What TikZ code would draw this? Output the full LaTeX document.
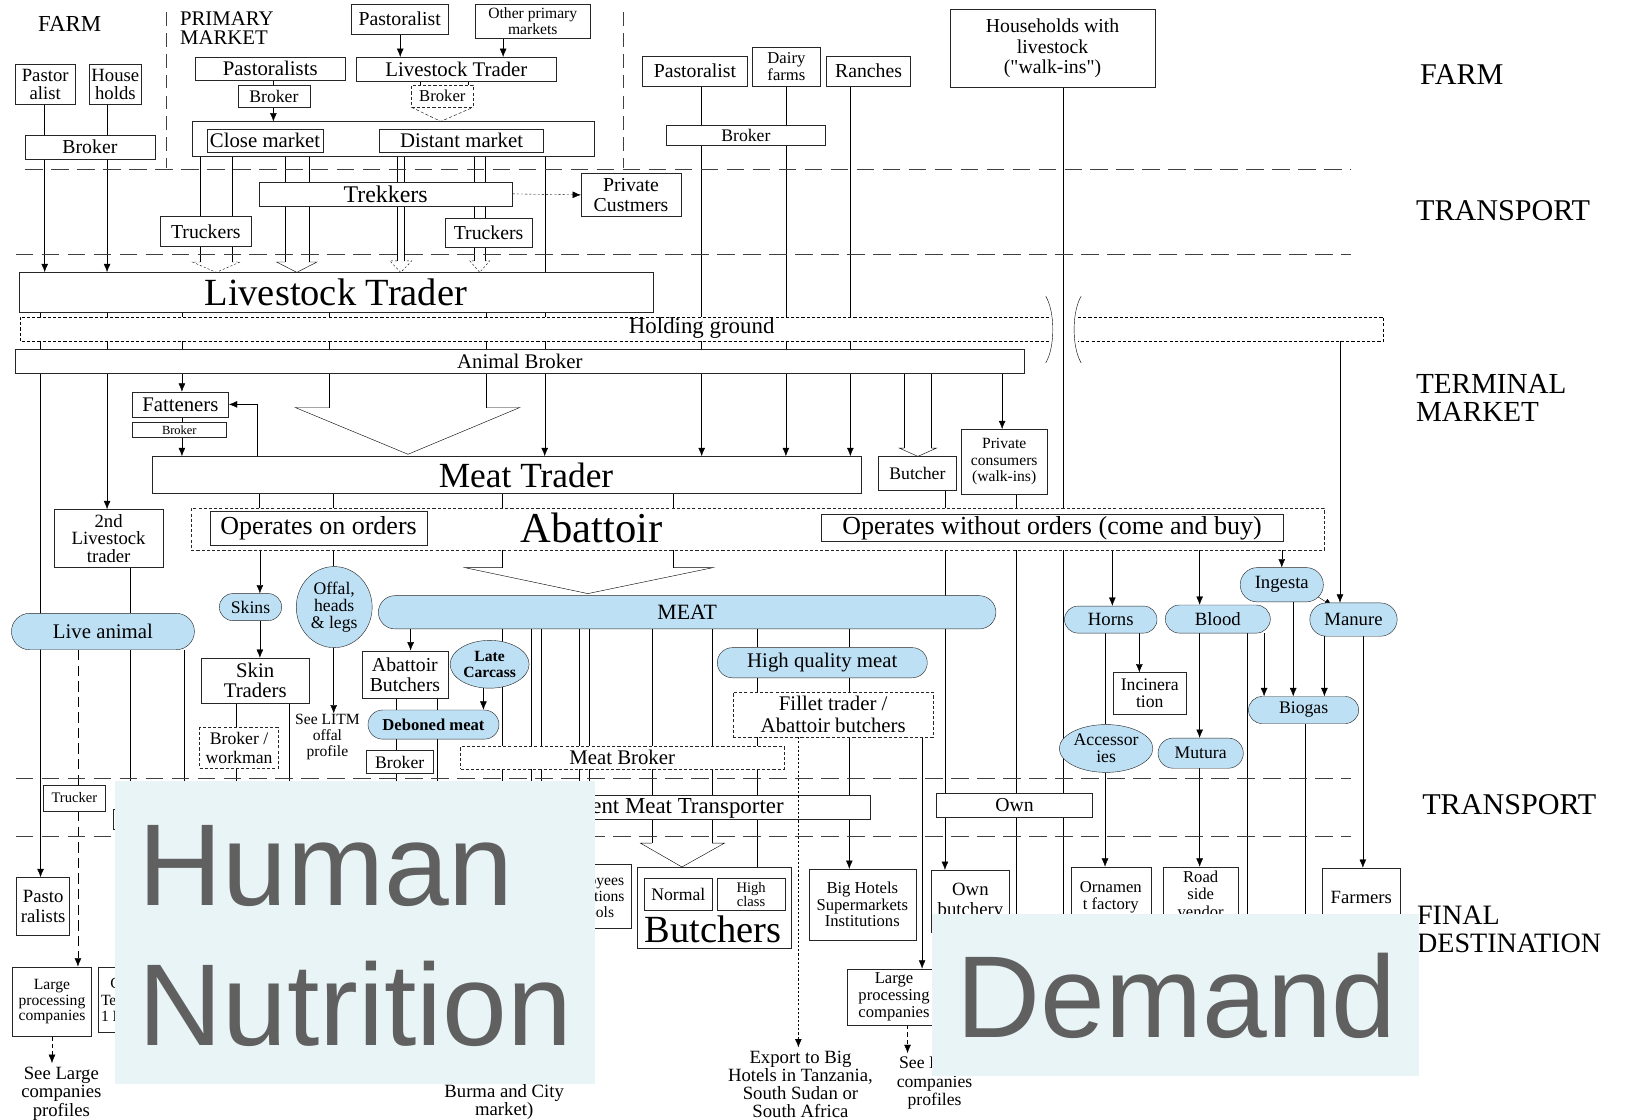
\documentclass[tikz,border=0pt]{standalone}
\usepackage{fontspec}
\setmainfont{Liberation Serif}
\newfontfamily\ovfont{Liberation Sans}
\usetikzlibrary{arrows.meta,shapes.geometric,shapes.misc}
\definecolor{blu}{RGB}{190,224,245}
\definecolor{ovbg}{RGB}{232,244,246}
\definecolor{ovtx}{RGB}{96,96,96}
\pgfdeclarelayer{back}\pgfdeclarelayer{lines}
\pgfsetlayers{back,lines,main}
\newcommand\fz[2]{\fontsize{#1}{#2}\selectfont}
\newcommand\Bx[7][]{\node[box,minimum width={#5-#3},minimum height={#6-#4},#1] (#2) at ({(#3+#5)/2},{(#4+#6)/2}) {#7};}
\newcommand\Pl[7][]{\node[pill,minimum width={#5-#3},minimum height={#6-#4},#1] (#2) at ({(#3+#5)/2},{(#4+#6)/2}) {#7};}
\newcommand\El[7][]{\node[ell,minimum width={#5-#3},minimum height={#6-#4}] (#2) at ({(#3+#5)/2},{(#4+#6)/2}) {};\node[align=center,inner sep=0pt,#1] (#2-t) at (#2.center) {#7};}
\newcommand\vl[4][]{\draw[#1] (#2,0 |- #3) -- (#2,0 |- #4);}
\newcommand\hollow[8][]{%
  \fill[white] (#2,#4) -- (#2,#5) -- (#6,#5) -- ({(#2+#3)/2},#8) -- (#7,#5) -- (#3,#5) -- (#3,#4) -- cycle;
  \draw (#2,#4) -- (#2,#5) (#3,#4) -- (#3,#5);
  \draw[#1] (#2,#5) -- (#6,#5) -- ({(#2+#3)/2},#8) -- (#7,#5) -- (#3,#5);}
\newcommand\qq{\XeTeXglyph\XeTeXcharglyph"22\relax}
\begin{document}
\begin{tikzpicture}[x=1pt,y=-1pt,line width=0.8pt,
  box/.style={draw=black!85,fill=white,inner sep=1pt,align=center},
  dbox/.style={box,dash pattern=on 3pt off 2pt},
  pill/.style={rounded rectangle,draw=black!85,fill=blu,inner sep=1pt,align=center},
  ell/.style={ellipse,draw=black!85,fill=blu,inner sep=0pt},
  arr/.style={-{Latex[length=8pt,width=6.5pt]}},
  dotl/.style={dash pattern=on 2pt off 2pt},
  sep/.style={line width=0.9pt,draw=black!75,dash pattern=on 17pt off 8pt},
  vsep/.style={line width=0.9pt,draw=black!75,dash pattern=on 13pt off 7pt},
  lbl/.style={inner sep=0pt,align=left}]
\useasboundingbox (0,0) rectangle (1568,1077);
\begin{pgfonlayer}{back}\fill[white] (0,0) rectangle (1568,1077);\end{pgfonlayer}

% ---------- labels
\node[lbl,font=\fz{22}{22}] (tFarm) at (67,23) {FARM};
\node[lbl,anchor=west,font=\fz{20}{19}] (tPM) at (173,27) {PRIMARY\\MARKET};
\node[lbl,anchor=west,font=\fz{29}{29}] (tFarmR) at (1366,72) {FARM};
\node[lbl,anchor=west,font=\fz{29}{29}] (tTr1) at (1362,203) {TRANSPORT};
\node[lbl,anchor=west,font=\fz{28}{27}] (tTM) at (1362,383) {TERMINAL\\MARKET};
\node[lbl,anchor=west,font=\fz{29}{29}] (tTr2) at (1368,774) {TRANSPORT};
\node[lbl,anchor=west,font=\fz{27}{26}] (tFD) at (1363,894) {FINAL\\DESTINATION};

% ---------- farm / primary market
\Bx[font=\fz{19}{19}]{pTop}{338}{4}{431}{33}{Pastoralist}
\Bx[font=\fz{15}{15}]{oTop}{457}{4}{568}{37}{Other primary\\markets}
\Bx[font=\fz{20}{20}]{pasts}{188}{55}{332}{77}{Pastoralists}
\Bx[font=\fz{20}{20}]{ltp}{343}{55}{535}{78}{Livestock Trader}
\Bx[font=\fz{17}{17}]{brk1}{229}{82}{298}{103}{Broker}
\Bx[dbox,font=\fz{16}{16}]{brk2}{396}{82}{455}{103}{Broker}
\Bx{mkt}{185}{117}{572}{150}{}
\Bx[font=\fz{20}{20}]{close}{199}{124}{311}{146}{Close market}
\Bx[font=\fz{20}{20}]{dist}{365}{124}{523}{146}{Distant market}
\Bx[font=\fz{18}{17}]{pa}{15}{62}{72}{100}{Pastor\\alist}
\Bx[font=\fz{18}{17}]{hh}{86}{62}{136}{100}{House\\holds}
\Bx[font=\fz{19}{19}]{brkL}{24}{130}{149}{153}{Broker}
\Bx[font=\fz{19}{19}]{pR}{618}{54}{719}{83}{Pastoralist}
\Bx[font=\fz{16}{16}]{dR}{724}{45}{789}{83}{Dairy\\farms}
\Bx[font=\fz{19}{19}]{rR}{795}{54}{876}{83}{Ranches}
\Bx[font=\fz{19}{20}]{hw}{914}{9}{1111}{84}{Households with\\livestock\\(\qq walk-ins\qq)}
\Bx[font=\fz{17}{17}]{brkR}{641}{120}{794}{140}{Broker}

% ---------- transport 1
\Bx[font=\fz{23}{23}]{trek}{249}{175}{493}{198}{Trekkers}
\Bx[font=\fz{19}{19}]{pc}{559}{167}{655}{208}{Private\\Custmers}
\Bx[font=\fz{19}{19}]{trL}{154}{208}{242}{237}{Truckers}
\Bx[font=\fz{19}{19}]{trR}{428}{210}{512}{238}{Truckers}

% ---------- terminal market
\Bx[font=\fz{37}{37}]{lt}{18}{262}{628}{300}{Livestock Trader}
\fill[white] (19,305) rectangle (1009,328);
\draw[dash pattern=on 3pt off 2pt] (1009,305) -- (19,305) -- (19,328) -- (1009,328);
\fill[white] (1037,305) rectangle (1331,328);
\draw[dash pattern=on 3pt off 2pt] (1037,305) -- (1331,305) -- (1331,328) -- (1037,328);
\draw (1006,285) .. controls (1015,300) and (1015,334) .. (1006,349);
\draw (1040,285) .. controls (1031,300) and (1031,334) .. (1040,349);
\node[font=\fz{22}{22}] (hg) at (675,316) {Holding ground};
\coordinate (hgR) at (1289,328);
\Bx[font=\fz{20}{20}]{ab}{15}{336}{985}{359}{Animal Broker}
\Bx[font=\fz{20}{20}]{fat}{127}{377}{220}{401}{Fatteners}
\Bx[font=\fz{12}{12}]{brk3}{127}{406}{218}{421}{Broker}
\Bx{mt}{146}{439}{828}{474}{}
\node[font=\fz{34}{34}] (mtT) at (506,457) {Meat Trader};
\Bx[font=\fz{17}{17}]{but}{845}{439}{920}{472}{Butcher}
\Bx[font=\fz{15}{16}]{pcw}{925}{413}{1007}{475}{Private\\consumers\\(walk-ins)}
\Bx[font=\fz{18}{17}]{lt2}{52}{490}{157}{546}{2nd\\Livestock\\trader}
\Bx[dbox]{abbox}{184}{489}{1274}{529}{}
\node[font=\fz{41}{41}] (abT) at (569,508) {Abattoir};
\Bx[font=\fz{25}{25}]{oo}{202}{492}{411}{524}{Operates on orders}
\Bx[font=\fz{25}{25}]{owo}{790}{495}{1234}{521}{Operates without orders (come and buy)}

% ---------- products
\Pl[font=\fz{20}{20}]{la}{10}{590}{188}{625}{Live animal}
\Pl[font=\fz{17}{17}]{sk}{210}{571}{272}{597}{Skins}
\El[font=\fz{17}{16}]{of}{285}{545}{358}{623}{Offal,\\heads\\\& legs}
\Pl[font=\fz{21}{21}]{meat}{363}{573}{959}{605}{MEAT}
\Bx[font=\fz{20}{20}]{st}{194}{633}{297}{676}{Skin\\Traders}
\Bx[dbox,font=\fz{17}{18}]{bw}{192}{700}{268}{739}{Broker /\\workman}
\node[font=\fz{15}{15},align=center,inner sep=1pt] (litm) at (315,709) {See LITM\\offal\\profile};
\Bx[font=\fz{19}{20}]{abb}{348}{626}{431}{672}{Abattoir\\Butchers}
\El[font=\bfseries\fz{15}{15}]{lc}{433}{616}{509}{662}{Late\\Carcass}
\Pl[font=\bfseries\fz{16}{16}]{dm}{353}{683}{481}{711}{Deboned meat}
\Bx[font=\fz{17}{17}]{brk4}{352}{722}{417}{744}{Broker}
\Pl[font=\fz{20}{20}]{hqm}{689}{623}{893}{652}{High quality meat}
\Bx[dbox,font=\fz{20}{21}]{fil}{705}{666}{898}{709}{Fillet trader /\\Abattoir butchers}
\Bx[dbox,font=\fz{20}{20}]{mb}{443}{718}{754}{740}{Meat Broker}
\Pl[font=\fz{18}{18}]{horns}{1023}{583}{1114}{609}{Horns}
\Pl[font=\fz{18}{18}]{blood}{1120}{582}{1223}{609}{Blood}
\Pl[font=\fz{18}{18}]{ing}{1192}{546}{1274}{579}{Ingesta}
\Pl[font=\fz{18}{18}]{man}{1259}{580}{1345}{612}{Manure}
\Bx[font=\fz{17}{17}]{inc}{1071}{647}{1141}{687}{Incinera\\tion}
\El[font=\fz{17}{16}]{acc}{1019}{697}{1109}{743}{Accessor\\ies}
\Pl[font=\fz{17}{17}]{mut}{1113}{710}{1197}{739}{Mutura}
\Pl[font=\fz{17}{17}]{bio}{1200}{670}{1308}{696}{Biogas}

% ---------- transport 2
\Bx[font=\fz{14}{14}]{truck}{42}{755}{101}{780}{Trucker}
\Bx{hid1}{109}{778}{200}{798}{}
\Bx{imt}{385}{765}{837}{788}{}
\node[font=\fz{22}{22},anchor=east,inner sep=0pt] (imtT) at (754,777) {Independent Meat Transporter};
\Bx[font=\fz{19}{19}]{own}{901}{763}{1051}{786}{Own}

% ---------- final destination
\Bx[font=\fz{18}{20}]{pf}{16}{844}{67}{900}{Pasto\\ralists}
\Bx[font=\fz{15}{15}]{lpL}{12}{930}{88}{997}{Large\\processing\\companies}
\Bx{hidC}{94}{930}{200}{993}{}
\node[font=\fz{15}{16},align=left,anchor=west,inner sep=0pt] (hidCT) at (97,962) {\hspace*{9pt}C\\Te\\1 N};
\Bx[font=\fz{15}{15.5}]{eesB}{527}{831}{607}{893}{Employees\\Institutions\\Schools}
\Bx{butchers}{613}{834}{761}{912}{}
\Bx[font=\fz{17}{17}]{normal}{620}{845}{685}{876}{Normal}
\Bx[font=\fz{14}{13}]{high}{690}{845}{755}{876}{High\\class}
\node[font=\fz{37}{37}] (butT) at (686,894) {Butchers};
\Bx[font=\fz{16}{16}]{bh}{778}{836}{881}{904}{Big Hotels\\Supermarkets\\Institutions}
\Bx[font=\fz{16}{16}]{lpR}{815}{932}{905}{986}{Large\\processing\\companies}
\Bx[font=\fz{18}{19}]{ob}{896}{837}{971}{897}{Own\\butchery}
\Bx[font=\fz{16}{17}]{orn}{1030}{834}{1107}{892}{Ornamen\\t factory}
\Bx[font=\fz{16}{17}]{rsv}{1119}{834}{1191}{886}{Road\\side\\vendor}
\Bx[font=\fz{18}{18}]{farm}{1272}{835}{1347}{891}{Farmers}
\node[font=\fz{18}{18},align=center] (seeL) at (59,1052) {See Large\\companies\\profiles};
\node[font=\fz{18}{17},align=center] (burma) at (485,1060) {Burma and City\\market)};
\node[font=\fz{18}{17.3},align=center] (exp) at (770,1043) {Export to Big\\Hotels in Tanzania,\\South Sudan or\\South Africa};
\node[font=\fz{17}{18},align=center] (seeR) at (899,1042) {See Large\\companies\\profiles};

% dotted export line drawn over the transporter box
\vl[arr,dotl]{768}{fil.south}{exp.north}

% ---------- connectors
\begin{pgfonlayer}{lines}
\vl{43}{pa.south}{brkL.north}
\vl{103}{hh.south}{brkL.north}
\vl[arr]{43}{brkL.south}{lt.north}
\vl[arr]{103}{brkL.south}{lt.north}
\vl[arr]{385}{pTop.south}{ltp.north}
\vl[arr]{484}{oTop.south}{ltp.north}
\vl{263}{pasts.south}{brk1.north}
\vl[arr]{263}{brk1.south}{mkt.north}
\vl{404}{ltp.south}{brk2.north}
\vl{450}{ltp.south}{brk2.north}
\draw[dash pattern=on 3pt off 2pt] (brk2.south west) -- (424,0 |- mkt.north) -- (brk2.south east);
\vl{524}{mkt.south}{lt.north}
\hollow[dotl]{193}{223}{150}{252}{185}{231}{262}
\hollow{274}{297}{146}{252}{266}{305}{262}
\hollow[dotl]{382}{389}{146}{251}{375}{396}{262}
\hollow[dotl]{456}{467}{146}{251}{452}{471}{262}
\draw[arr,dotl] (trek.east) -- (pc.west);
\vl{675}{pR.south}{brkR.north}
\vl{756}{dR.south}{brkR.north}
\vl[arr]{675}{brkR.south}{mt.north}
\vl[arr]{756}{brkR.south}{mt.north}
\vl[arr]{818}{rR.south}{mt.north}
\draw (1023,0 |- hw.south) -- (1023,960);
\foreach \x in {39,103,175,317,468,524} {\vl{\x}{lt.south}{ab.north}}
\vl[arr]{39}{ab.south}{pf.north}
\vl[arr]{103}{ab.south}{lt2.north}
\vl[arr]{175}{ab.south}{fat.north}
\hollow{317}{468}{359}{392}{284}{500}{437}
\vl[arr]{524}{ab.south}{mt.north}
\hollow{870}{896}{359}{431}{865}{901}{439}
\vl[arr]{964}{ab.south}{pcw.north}
\vl{175}{fat.south}{brk3.north}
\vl[arr]{175}{brk3.south}{mt.north}
\draw[arr] (247,0 |- mt.north) |- (fat.east);
\foreach \x in {249,321,483,648} {\vl{\x}{mt.south}{abbox.north}}
\vl{909}{but.south}{abbox.north}
\vl{978}{pcw.south}{abbox.north}
\hollow{483}{648}{529}{546}{447}{686}{571}
\vl[arr]{250}{abbox.south}{sk.north}
\vl{321}{abbox.south}{of.north}
\vl[arr]{909}{abbox.south}{ob.north}
\draw (978,0 |- abbox.south) -- (978,960);
\vl[arr]{1070}{abbox.south}{horns.north}
\vl[arr]{1154}{abbox.south}{blood.north}
\vl[arr]{1233}{abbox.south}{ing.north}
\draw[arr] (hgR) -- (1289,0 |- man.north);
\coordinate (im) at (1282,583);
\draw[arr] ([xshift=-8pt,yshift=-10pt]ing.east) -- (im);
\vl[arr]{1096}{horns.south}{inc.north}
\vl{1063}{horns.south}{acc.north}
\vl[arr]{1063}{acc.south}{orn.north}
\vl[arr]{1154}{blood.south}{mut.north}
\vl[arr]{1154}{mut.south}{rsv.north}
\draw (1200,0 |- blood.south) -- (1200,960);
\vl[arr]{1216}{blood.south}{bio.north}
\vl[arr]{1244}{ing.south}{bio.north}
\vl[arr]{1274}{man.south}{bio.north}
\vl[arr]{1311}{man.south}{farm.north}
\draw (1256,0 |- bio.south) -- (1256,960);
\vl{125}{lt2.south}{la.north}
\vl[dash pattern=on 10pt off 5pt]{75}{la.south}{truck.north}
\vl[arr,dash pattern=on 10pt off 5pt]{75}{truck.south}{lpL.north}
\draw (125,0 |- la.south) -- (125,850);
\draw (177,0 |- la.south) -- (177,850);
\vl[arr]{250}{sk.south}{st.north}
\vl{227}{st.south}{bw.north}
\draw (227,0 |- bw.south) -- (227,850);
\draw (278,0 |- st.south) -- (278,850);
\vl[arr]{321}{of.south}{litm.north}
\vl[arr]{395}{meat.south}{abb.north}
\vl{381}{abb.south}{dm.north}
\vl{421}{abb.south}{dm.north}
\vl[arr]{465}{lc.south}{dm.north}
\vl{381}{dm.south}{brk4.north}
\draw (381,0 |- brk4.south) -- (381,850);
\draw (421,0 |- dm.south) -- (421,850);
\draw (483,0 |- meat.south) -- (483,850);
\foreach \x in {511,521,557,567} {\draw (\x,0 |- meat.south) -- (\x,850);}
\vl{627}{meat.south}{imt.north}
\vl{685}{meat.south}{imt.north}
\hollow{627}{685}{788}{811}{616}{697}{834}
\vl{728}{meat.south}{hqm.north}
\vl{817}{meat.south}{hqm.north}
\vl{728}{hqm.south}{fil.north}
\vl{817}{hqm.south}{fil.north}
\vl{728}{fil.south}{imt.north}
\vl[arr]{728}{imt.south}{high.north}
\vl[arr]{817}{fil.south}{bh.north}
\vl[arr]{887}{fil.south}{lpR.north}
\vl[arr,dash pattern=on 4pt off 3pt]{873}{lpR.south}{seeR.north}
\vl[arr,dash pattern=on 4pt off 3pt]{50}{lpL.south}{seeL.north}
\draw[sep] (24,163) -- (1300,163);
\draw[sep] (15,245) -- (1300,245);
\draw[sep] (15,749) -- (1300,749);
\draw[sep] (15,805) -- (1300,805);
\draw[vsep] (160,12) -- (160,162);
\draw[vsep] (600,12) -- (600,162);
\end{pgfonlayer}

% ---------- overlays
\fill[ovbg] (111,751) rectangle (572,1043);
\node[anchor=base west,inner sep=0pt,font=\ovfont\fz{112}{112},text=ovtx] (hum) at (133,871) {Human};
\node[anchor=base west,inner sep=0pt,font=\ovfont\fz{112}{112},text=ovtx] (nut) at (133,1006) {Nutrition};
\fill[ovbg] (897,879) rectangle (1365,1035);
\node[anchor=base west,inner sep=0pt,font=\ovfont\fz{112}{112},text=ovtx] (dem) at (920,998) {Demand};
\end{tikzpicture}
\end{document}
